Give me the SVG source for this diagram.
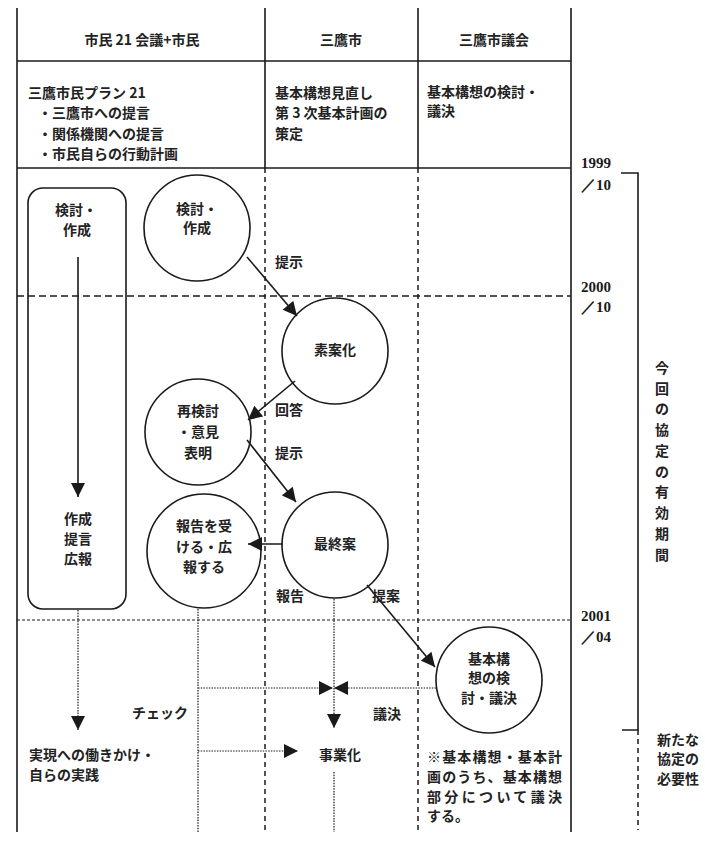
<svg xmlns="http://www.w3.org/2000/svg" width="705" height="846" viewBox="0 0 705 846">
<defs>
<style>
.t{font-family:"Noto Sans CJK JP","Noto Sans CJK SC",sans-serif;font-size:14px;font-weight:bold;fill:#222}
.c{text-anchor:middle}
.n{font-family:"Liberation Serif",serif;font-size:15px;font-weight:bold;fill:#1a1a1a}
.solid{stroke:#1a1a1a;stroke-width:1.6;fill:none}
.dash{stroke:#1a1a1a;stroke-width:1.5;fill:none;stroke-dasharray:5 4}
.hdash{stroke:#1a1a1a;stroke-width:1.3;fill:none;stroke-dasharray:7 4}
.fine{stroke:#1a1a1a;stroke-width:1;fill:none;stroke-dasharray:3 2}
.dot{stroke:#1a1a1a;stroke-width:1.2;fill:none;stroke-dasharray:1.5 1.2}
.node{stroke:#1a1a1a;stroke-width:1.6;fill:#fff}
.arr{stroke:#1a1a1a;stroke-width:1.6;fill:none}
</style>
<marker id="ah" viewBox="0 0 10 10" markerUnits="userSpaceOnUse" markerWidth="15" markerHeight="14" refX="10" refY="5" orient="auto">
<path d="M0,0 L10,5 L0,10 z" fill="#1a1a1a"/>
</marker>
</defs>
<rect width="705" height="846" fill="#fff"/>

<g id="grid">
<line class="solid" x1="17" y1="8" x2="17" y2="832"/>
<line class="solid" x1="571" y1="8" x2="571" y2="832"/>
<line class="solid" x1="265" y1="8" x2="265" y2="168"/>
<line class="solid" x1="418" y1="8" x2="418" y2="168"/>
<line class="solid" x1="17" y1="61" x2="571" y2="61"/>
<line class="solid" x1="17" y1="168" x2="571" y2="168"/>
<line class="dash" x1="265" y1="168" x2="265" y2="832"/>
<line class="dash" x1="418" y1="168" x2="418" y2="832"/>
<line class="hdash" x1="17" y1="296" x2="571" y2="296"/>
<line class="fine" x1="17" y1="620" x2="571" y2="620"/>
</g>

<g id="headers">
<text class="t c" x="142" y="45">市民 21 会議+市民</text>
<text class="t c" x="341" y="45">三鷹市</text>
<text class="t c" x="494" y="45">三鷹市議会</text>
<text class="t" x="28" y="98">三鷹市民プラン 21</text>
<text class="t" x="38" y="118">・三鷹市への提言</text>
<text class="t" x="38" y="139">・関係機関への提言</text>
<text class="t" x="38" y="159">・市民自らの行動計画</text>
<text class="t" x="275" y="98">基本構想見直し</text>
<text class="t" x="275" y="118">第 3 次基本計画の</text>
<text class="t" x="275" y="139">策定</text>
<text class="t" x="427" y="97">基本構想の検討・</text>
<text class="t" x="427" y="116">議決</text>
</g>

<g id="timeline">
<text class="n" x="581" y="168">1999</text>
<text class="n" x="581" y="190">／10</text>
<text class="n" x="581" y="292">2000</text>
<text class="n" x="581" y="312">／10</text>
<text class="n" x="581" y="621">2001</text>
<text class="n" x="581" y="642">／04</text>
<polyline class="solid" points="621,173 638,173 638,730 622,730"/>
<line class="dash" x1="638" y1="730" x2="638" y2="830"/>
<text class="t c" x="662" y="373">今</text>
<text class="t c" x="662" y="394">回</text>
<text class="t c" x="662" y="414">の</text>
<text class="t c" x="662" y="435">協</text>
<text class="t c" x="662" y="456">定</text>
<text class="t c" x="662" y="477">の</text>
<text class="t c" x="662" y="497">有</text>
<text class="t c" x="662" y="518">効</text>
<text class="t c" x="662" y="539">期</text>
<text class="t c" x="662" y="560">間</text>
<text class="t" x="657" y="745">新たな</text>
<text class="t" x="657" y="764">協定の</text>
<text class="t" x="657" y="784">必要性</text>
</g>

<g id="node-citizen-box">
<rect class="solid" x="28" y="188" width="98" height="421" rx="15"/>
<text class="t c" x="76" y="215">検討・</text>
<text class="t c" x="77" y="235">作成</text>
<text class="t c" x="78" y="524">作成</text>
<text class="t c" x="78" y="544">提言</text>
<text class="t c" x="78" y="564">広報</text>
</g>

<g id="node-kento">
<circle class="node" cx="197" cy="228" r="53"/>
<text class="t c" x="197" y="214">検討・</text>
<text class="t c" x="197" y="233">作成</text>
</g>

<g id="node-soan">
<circle class="node" cx="335" cy="351" r="53"/>
<text class="t c" x="335" y="355">素案化</text>
</g>

<g id="node-saikento">
<circle class="node" cx="198" cy="432" r="53"/>
<text class="t c" x="198" y="416">再検討</text>
<text class="t c" x="198" y="437">・意見</text>
<text class="t c" x="198" y="458">表明</text>
</g>

<g id="node-saishu">
<circle class="node" cx="335" cy="545" r="53"/>
<text class="t c" x="335" y="549">最終案</text>
</g>

<g id="node-hokoku">
<circle class="node" cx="204" cy="551" r="57"/>
<text class="t c" x="204" y="531">報告を受</text>
<text class="t c" x="204" y="552">ける・広</text>
<text class="t c" x="204" y="572">報する</text>
</g>

<g id="node-gikai">
<circle class="node" cx="489" cy="680" r="53"/>
<text class="t c" x="489" y="664">基本構</text>
<text class="t c" x="489" y="683">想の検</text>
<text class="t c" x="489" y="703">討・議決</text>
</g>

<g id="connectors">
<line class="arr" x1="78" y1="257" x2="78" y2="497" marker-end="url(#ah)"/>
<line class="arr" x1="247" y1="257" x2="297" y2="316" marker-end="url(#ah)"/>
<line class="arr" x1="295" y1="381" x2="248" y2="420" marker-end="url(#ah)"/>
<line class="arr" x1="247" y1="440" x2="296" y2="502" marker-end="url(#ah)"/>
<line class="arr" x1="283" y1="544" x2="248" y2="544" marker-end="url(#ah)"/>
<line class="arr" x1="367" y1="585" x2="435" y2="667" marker-end="url(#ah)"/>
<line class="dot" x1="78" y1="610" x2="78" y2="730" marker-end="url(#ah)"/>
<line class="dot" x1="198" y1="609" x2="198" y2="832"/>
<line class="dot" x1="198" y1="688" x2="333" y2="688" marker-end="url(#ah)"/>
<line class="dot" x1="436" y1="688" x2="334" y2="688" marker-end="url(#ah)"/>
<line class="dot" x1="334" y1="599" x2="334" y2="728" marker-end="url(#ah)"/>
<line class="dot" x1="198" y1="751" x2="298" y2="751" marker-end="url(#ah)"/>
<line class="dot" x1="334" y1="772" x2="334" y2="832"/>
</g>

<g id="labels">
<text class="t" x="275" y="267">提示</text>
<text class="t" x="275" y="415">回答</text>
<text class="t" x="275" y="458">提示</text>
<text class="t c" x="290" y="601">報告</text>
<text class="t c" x="386" y="601">提案</text>
<text class="t" x="188" y="718" text-anchor="end">チェック</text>
<text class="t c" x="387" y="719">議決</text>
<text class="t c" x="340" y="760">事業化</text>
<text class="t" x="29" y="760">実現への働きかけ・</text>
<text class="t" x="29" y="780">自らの実践</text>
<text class="t" x="427" y="762" textLength="135" lengthAdjust="spacing">※基本構想・基本計</text>
<text class="t" x="427" y="782" textLength="135" lengthAdjust="spacing">画のうち、基本構想</text>
<text class="t" x="427" y="802" textLength="135" lengthAdjust="spacing">部分について議決</text>
<text class="t" x="427" y="821">する。</text>
</g>
</svg>
